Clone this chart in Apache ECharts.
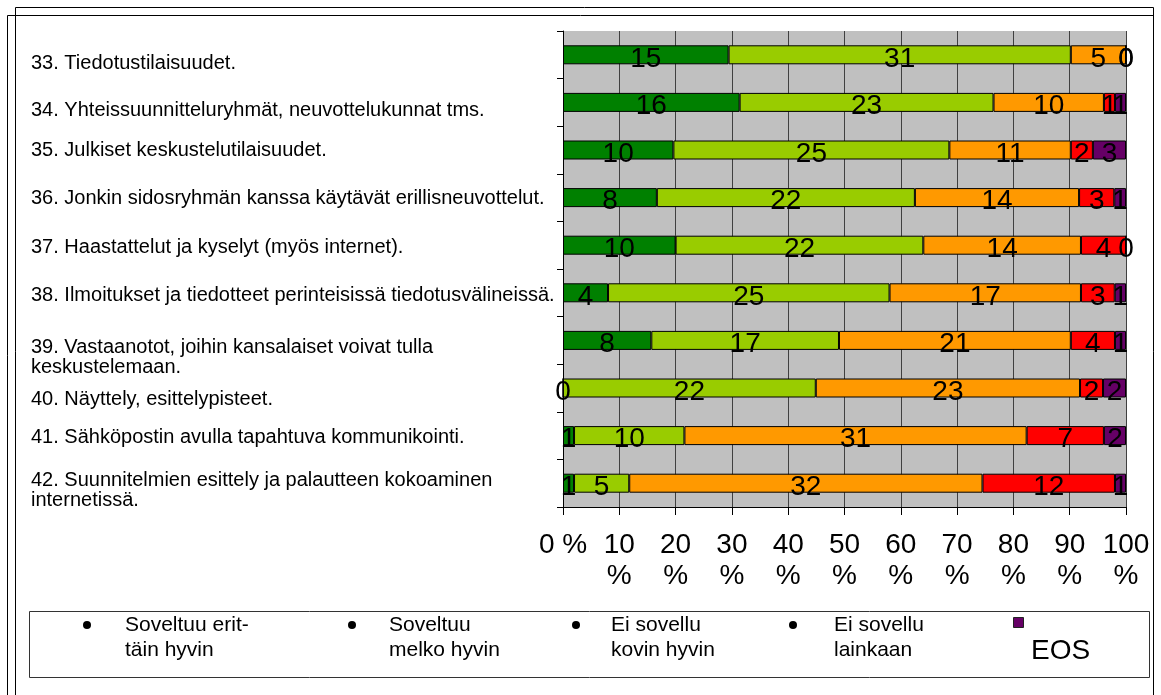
<!DOCTYPE html>
<html>
<head>
<meta charset="utf-8">
<script src="https://cdn.jsdelivr.net/npm/echarts@6/dist/echarts.min.js"></script>
<style>
  html, body { margin: 0; padding: 0; background: #fff; }
  #chart { width: 1161px; height: 695px; }
</style>
</head>
<body>
<div id="chart"></div>
<script>
// kysymykset (y-akseli ylhäältä alas)
var categories = [
    '33. Tiedotustilaisuudet.',
    '34. Yhteissuunnitteluryhmät, neuvottelukunnat tms.',
    '35. Julkiset keskustelutilaisuudet.',
    '36. Jonkin sidosryhmän kanssa käytävät erillisneuvottelut.',
    '37. Haastattelut ja kyselyt (myös internet).',
    '38. Ilmoitukset ja tiedotteet perinteisissä tiedotusvälineissä.',
    '39. Vastaanotot, joihin kansalaiset voivat tulla\nkeskustelemaan.',
    '40. Näyttely, esittelypisteet.',
    '41. Sähköpostin avulla tapahtuva kommunikointi.',
    '42. Suunnitelmien esittely ja palautteen kokoaminen\ninternetissä.'
];
// vastausten lukumäärät
var erittainHyvin = [15, 16, 10, 8, 10, 4, 8, 0, 1, 1];
var melkoHyvin    = [31, 23, 25, 22, 22, 25, 17, 22, 10, 5];
var kovinHyvin    = [5, 10, 11, 14, 14, 17, 21, 23, 31, 32];
var lainkaan      = [0, 1, 2, 3, 4, 3, 4, 2, 7, 12];
var eos           = [0, 1, 3, 1, 0, 1, 1, 2, 2, 1];
var legendLabels = ['Soveltuu erit-\ntäin hyvin', 'Soveltuu\nmelko hyvin', 'Ei sovellu\nkovin hyvin', 'Ei sovellu\nlainkaan', 'EOS'];
var xTickLabels = ['0 %', '10\n%', '20\n%', '30\n%', '40\n%', '50\n%', '60\n%', '70\n%', '80\n%', '90\n%', '100\n%'];

var counts = [erittainHyvin, melkoHyvin, kovinHyvin, lainkaan, eos];
var colors = ['#008000', '#99CC00', '#FF9900', '#FF0000', '#660066'];
var font = '"Liberation Sans", Arial, sans-serif';
// tekstien pystysiirrot kuten alkuperäisessä kuvassa (px alaspäin)
var labelShift = [9, 8, 0, 1, 2, 3, 17, 11, 2, 7];

// rivien summat -> prosentit
var totals = [];
for (var i = 0; i < categories.length; i++) {
    var s = 0;
    for (var k = 0; k < counts.length; k++) {
        s += counts[k][i];
    }
    totals.push(s);
}

// tyhjä välirivi tekstin yläpuolelle siirtää tekstiä alaspäin
var yRich = {};
for (var i = 0; i < labelShift.length; i++) {
    yRich['s' + i] = { lineHeight: Math.max(labelShift[i] * 2, 1), fontSize: 1 };
}

var series = [];
for (var k = 0; k < counts.length; k++) {
    var pct = [];
    for (var i = 0; i < categories.length; i++) {
        pct.push(counts[k][i] / totals[i] * 100);
    }
    series.push({
        name: legendLabels[k],
        type: 'bar',
        stack: 'all',
        barWidth: 19,
        data: pct,
        itemStyle: { color: colors[k], borderColor: '#000', borderWidth: 1 },
        label: {
            show: true,
            position: 'inside',
            offset: [0, 4],
            color: '#000',
            fontSize: 28,
            fontFamily: font,
            formatter: (function (arr) {
                return function (p) { return arr[p.dataIndex]; };
            })(counts[k])
        },
        emphasis: { disabled: true }
    });
}

// selite (käsin sijoitettu kuten alkuperäisessä)
var bulletX = [87, 352, 576, 793];
var textX = [125, 389, 611, 834];
var graphic = [
    { type: 'line', shape: { x1: 15.5, y1: 7.5, x2: 1153.5, y2: 7.5 }, style: { stroke: '#000', lineWidth: 1 } },
    { type: 'line', shape: { x1: 7.5, y1: 15.5, x2: 1153.5, y2: 15.5 }, style: { stroke: '#000', lineWidth: 1 } },
    { type: 'line', shape: { x1: 15.5, y1: 7.5, x2: 15.5, y2: 695 }, style: { stroke: '#000', lineWidth: 1 } },
    { type: 'line', shape: { x1: 7.5, y1: 15.5, x2: 7.5, y2: 695 }, style: { stroke: '#000', lineWidth: 1 } },
    { type: 'line', shape: { x1: 1153.5, y1: 7.5, x2: 1153.5, y2: 695 }, style: { stroke: '#000', lineWidth: 1 } },
    { type: 'rect', shape: { x: 29.5, y: 611.5, width: 1120, height: 66 }, style: { fill: '#fff', stroke: '#333', lineWidth: 1 } }
];
for (var k = 0; k < 4; k++) {
    graphic.push({ type: 'circle', shape: { cx: bulletX[k], cy: 625, r: 4 }, style: { fill: '#000' } });
    graphic.push({ type: 'text', x: textX[k], y: 613, style: { text: legendLabels[k], fill: '#000', font: '21px ' + font, lineHeight: 25 } });
}
graphic.push({ type: 'rect', shape: { x: 1013.5, y: 617.5, width: 10, height: 10 }, style: { fill: colors[4], stroke: '#222', lineWidth: 1 } });
graphic.push({ type: 'text', x: 1031, y: 651, style: { text: legendLabels[4], fill: '#000', font: '28px ' + font, textVerticalAlign: 'middle' } });

var option = {
    animation: false,
    backgroundColor: '#fff',
    grid: {
        left: 563,
        top: 31,
        width: 563,
        height: 476,
        show: true,
        backgroundColor: '#C0C0C0',
        borderWidth: 0,
        containLabel: false,
        outerBoundsMode: 'none'
    },
    xAxis: {
        type: 'value',
        min: 0,
        max: 100,
        interval: 10,
        axisLine: { show: true, lineStyle: { color: '#000', width: 1 } },
        axisTick: { show: true, length: 8, lineStyle: { color: '#000' } },
        splitLine: { show: true, lineStyle: { color: '#404040', width: 1 } },
        axisLabel: {
            margin: 23,
            color: '#000',
            fontSize: 28,
            lineHeight: 31,
            fontFamily: font,
            formatter: function (v) { return xTickLabels[Math.round(v / 10)]; }
        }
    },
    yAxis: {
        type: 'category',
        inverse: true,
        data: categories,
        axisLine: { show: true, lineStyle: { color: '#000', width: 1 } },
        axisTick: { show: true, length: 6, lineStyle: { color: '#000' } },
        axisLabel: {
            align: 'left',
            margin: 532,
            color: '#000',
            fontSize: 20,
            lineHeight: 20,
            fontFamily: font,
            formatter: function (value, index) {
                return labelShift[index] > 0 ? '{s' + index + '| }\n' + value : value;
            },
            rich: yRich
        }
    },
    graphic: graphic,
    series: series
};

var myChart = echarts.init(document.getElementById('chart'), null, { renderer: 'canvas' });
myChart.setOption(option);
</script>
</body>
</html>
